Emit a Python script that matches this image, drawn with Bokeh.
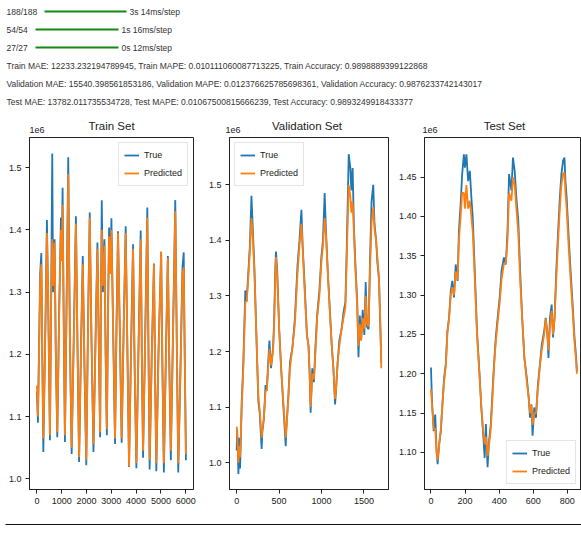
from bokeh.plotting import figure
from bokeh.layouts import column, row
from bokeh.models import Range1d, FixedTicker, PrintfTickFormatter, Legend, LegendItem
from bokeh.core.properties import value
from bokeh.embed import file_html
from bokeh.resources import INLINE

# ---------------- data ----------------
progress_steps = ["188/188", "54/54", "27/27"]
progress_times = ["3s 14ms/step", "1s 16ms/step", "0s 12ms/step"]
metric_lines = [
    "Train MAE: 12233.232194789945, Train MAPE: 0.010111060087713225, Train Accuracy: 0.9898889399122868",
    "Validation MAE: 15540.398561853186, Validation MAPE: 0.012376625785698361, Validation Accuracy: 0.9876233742143017",
    "Test MAE: 13782.011735534728, Test MAPE: 0.01067500815666239, Test Accuracy: 0.9893249918433377",
]
subplot_titles = ["Train Set", "Validation Set", "Test Set"]
series_labels = ["True", "Predicted"]
y_multiplier = "1e6"

# values in units of 1e6
train_x = [0, 40, 100, 130, 177, 215, 258, 330, 403, 465,
           524, 575, 618, 650, 712, 760, 820, 900, 968, 1000,
           1035, 1080, 1129, 1200, 1263, 1330, 1400, 1490, 1572, 1640,
           1700, 1780, 1848, 1920, 1990, 2060, 2130, 2200, 2280, 2360,
           2440, 2500, 2548, 2580, 2615, 2660, 2723, 2770, 2820, 2870,
           2911, 2960, 3004, 3080, 3150, 3210, 3270, 3350, 3418, 3500,
           3580, 3650, 3715, 3800, 3876, 3940, 4011, 4100, 4185, 4230,
           4280, 4370, 4452, 4500, 4546, 4630, 4720, 4770, 4815, 4900,
           5010, 5060, 5120, 5200, 5280, 5340, 5400, 5490, 5580, 5640,
           5700, 5790, 5870, 5920, 5960, 6010]
train_true = [1.140, 1.090, 1.250, 1.330, 1.363, 1.200, 1.043, 1.220, 1.416, 1.250,
              1.062, 1.300, 1.523, 1.300, 1.385, 1.200, 1.067, 1.280, 1.420, 1.360,
              1.468, 1.250, 1.059, 1.300, 1.517, 1.220, 1.040, 1.240, 1.422, 1.200,
              1.027, 1.220, 1.358, 1.170, 1.022, 1.250, 1.428, 1.220, 1.043, 1.220,
              1.380, 1.200, 1.067, 1.280, 1.448, 1.300, 1.385, 1.200, 1.070, 1.280,
              1.404, 1.330, 1.419, 1.220, 1.056, 1.250, 1.398, 1.220, 1.058, 1.250,
              1.406, 1.200, 1.019, 1.220, 1.377, 1.180, 1.017, 1.220, 1.399, 1.200,
              1.034, 1.240, 1.436, 1.200, 1.015, 1.200, 1.346, 1.150, 1.012, 1.200,
              1.365, 1.180, 1.010, 1.200, 1.358, 1.180, 1.030, 1.240, 1.448, 1.220,
              1.010, 1.180, 1.340, 1.364, 1.200, 1.030]
train_pred = [1.150, 1.100, 1.240, 1.320, 1.345, 1.210, 1.065, 1.210, 1.395, 1.260,
              1.070, 1.290, 1.385, 1.310, 1.380, 1.210, 1.075, 1.270, 1.400, 1.350,
              1.440, 1.260, 1.070, 1.290, 1.490, 1.230, 1.050, 1.230, 1.410, 1.210,
              1.035, 1.210, 1.345, 1.180, 1.030, 1.240, 1.420, 1.230, 1.055, 1.210,
              1.370, 1.210, 1.075, 1.270, 1.400, 1.310, 1.375, 1.210, 1.080, 1.270,
              1.390, 1.330, 1.400, 1.230, 1.065, 1.240, 1.395, 1.230, 1.065, 1.240,
              1.395, 1.210, 1.020, 1.210, 1.370, 1.190, 1.025, 1.210, 1.385, 1.210,
              1.045, 1.230, 1.420, 1.210, 1.030, 1.190, 1.345, 1.160, 1.025, 1.190,
              1.365, 1.190, 1.025, 1.190, 1.355, 1.190, 1.045, 1.230, 1.430, 1.230,
              1.025, 1.170, 1.330, 1.340, 1.210, 1.040]

val_x = [0, 5, 12, 20, 32, 40, 59, 78, 101, 117,
         132, 155, 174, 190, 209, 232, 255, 271, 294, 302,
         321, 340, 355, 371, 386, 405, 428, 440, 455, 463,
         478, 501, 524, 551, 578, 585, 609, 628, 659, 686,
         717, 740, 763, 778, 801, 828, 847, 860, 872, 891,
         910, 929, 948, 975, 998, 1017, 1037, 1052, 1075, 1102,
         1121, 1140, 1160, 1171, 1190, 1210, 1236, 1259, 1282, 1298,
         1321, 1340, 1352, 1367, 1383, 1402, 1421, 1436, 1452, 1467,
         1486, 1505, 1521, 1536, 1555, 1571, 1590, 1610, 1625, 1644,
         1659, 1678, 1694, 1705]
val_true = [1.022, 1.060, 1.030, 0.980, 1.045, 0.990, 1.110, 1.180, 1.310, 1.290,
            1.330, 1.390, 1.480, 1.420, 1.350, 1.230, 1.110, 1.090, 1.025, 1.055,
            1.080, 1.140, 1.130, 1.180, 1.220, 1.170, 1.205, 1.250, 1.350, 1.380,
            1.345, 1.240, 1.170, 1.100, 1.030, 1.060, 1.120, 1.180, 1.210, 1.260,
            1.355, 1.400, 1.455, 1.390, 1.320, 1.230, 1.210, 1.160, 1.090, 1.170,
            1.145, 1.210, 1.265, 1.310, 1.370, 1.400, 1.485, 1.420, 1.340, 1.265,
            1.210, 1.170, 1.105, 1.130, 1.180, 1.220, 1.240, 1.270, 1.290, 1.390,
            1.555, 1.530, 1.490, 1.530, 1.420, 1.350, 1.290, 1.190, 1.265, 1.220,
            1.275, 1.230, 1.325, 1.245, 1.240, 1.360, 1.470, 1.500, 1.430, 1.400,
            1.360, 1.330, 1.240, 1.180]
val_pred = [1.065, 1.050, 1.030, 1.000, 1.030, 1.010, 1.100, 1.170, 1.290, 1.290,
            1.320, 1.380, 1.440, 1.405, 1.340, 1.230, 1.120, 1.095, 1.045, 1.060,
            1.080, 1.130, 1.130, 1.170, 1.205, 1.175, 1.200, 1.240, 1.330, 1.370,
            1.335, 1.240, 1.170, 1.105, 1.045, 1.060, 1.115, 1.170, 1.210, 1.250,
            1.340, 1.390, 1.430, 1.385, 1.310, 1.230, 1.210, 1.160, 1.100, 1.160,
            1.150, 1.200, 1.260, 1.300, 1.360, 1.390, 1.440, 1.410, 1.340, 1.260,
            1.210, 1.170, 1.115, 1.130, 1.180, 1.210, 1.240, 1.260, 1.280, 1.370,
            1.500, 1.480, 1.450, 1.470, 1.410, 1.340, 1.280, 1.210, 1.250, 1.220,
            1.260, 1.240, 1.300, 1.250, 1.245, 1.340, 1.430, 1.460, 1.420, 1.400,
            1.370, 1.330, 1.250, 1.170]

test_x = [0, 6, 16, 25, 33, 39, 48, 58, 67, 77,
          87, 96, 106, 116, 125, 135, 145, 156, 164, 174,
          183, 193, 199, 208, 218, 228, 237, 245, 257, 270,
          284, 295, 305, 315, 322, 332, 341, 351, 361, 370,
          380, 391, 403, 414, 428, 439, 449, 458, 472, 481,
          491, 501, 512, 523, 535, 548, 562, 573, 581, 589,
          596, 606, 616, 627, 639, 650, 664, 673, 683, 689,
          698, 708, 716, 725, 735, 746, 756, 765, 775, 783,
          789, 796, 808, 819, 831, 842, 852, 856]
test_true = [1.208, 1.165, 1.127, 1.148, 1.101, 1.085, 1.110, 1.127, 1.161, 1.195,
             1.212, 1.254, 1.271, 1.305, 1.318, 1.297, 1.339, 1.318, 1.382, 1.416,
             1.454, 1.479, 1.462, 1.479, 1.445, 1.458, 1.424, 1.399, 1.331, 1.254,
             1.203, 1.157, 1.127, 1.093, 1.136, 1.081, 1.115, 1.136, 1.178, 1.212,
             1.246, 1.271, 1.297, 1.331, 1.348, 1.339, 1.382, 1.454, 1.433, 1.475,
             1.458, 1.424, 1.395, 1.331, 1.271, 1.220, 1.195, 1.170, 1.144, 1.161,
             1.121, 1.157, 1.144, 1.186, 1.212, 1.237, 1.254, 1.271, 1.250, 1.220,
             1.271, 1.288, 1.246, 1.271, 1.331, 1.382, 1.424, 1.454, 1.471, 1.475,
             1.445, 1.424, 1.373, 1.331, 1.288, 1.246, 1.220, 1.203]
test_pred = [1.180, 1.160, 1.130, 1.130, 1.100, 1.090, 1.110, 1.130, 1.160, 1.190,
             1.210, 1.250, 1.270, 1.300, 1.310, 1.300, 1.330, 1.320, 1.370, 1.400,
             1.430, 1.430, 1.410, 1.440, 1.410, 1.420, 1.400, 1.380, 1.320, 1.250,
             1.200, 1.160, 1.130, 1.110, 1.120, 1.095, 1.110, 1.130, 1.170, 1.210,
             1.240, 1.265, 1.290, 1.320, 1.340, 1.340, 1.370, 1.430, 1.420, 1.450,
             1.440, 1.410, 1.380, 1.320, 1.270, 1.220, 1.190, 1.170, 1.150, 1.160,
             1.135, 1.150, 1.150, 1.180, 1.210, 1.230, 1.250, 1.270, 1.250, 1.230,
             1.260, 1.280, 1.250, 1.270, 1.320, 1.370, 1.410, 1.440, 1.455, 1.455,
             1.430, 1.410, 1.360, 1.320, 1.280, 1.240, 1.215, 1.200]

train_xticks = [0, 1000, 2000, 3000, 4000, 5000, 6000]
val_xticks = [0, 500, 1000, 1500]
test_xticks = [0, 200, 400, 600, 800]
train_yticks = [1.0, 1.1, 1.2, 1.3, 1.4, 1.5]
val_yticks = [1.0, 1.1, 1.2, 1.3, 1.4, 1.5]
test_yticks = [1.10, 1.15, 1.20, 1.25, 1.30, 1.35, 1.40, 1.45]

# ---------------- styles ----------------
FONT = "Liberation Sans"
INK = "#222222"
TXT = "#333333"
BLUE = "#1f77b4"
ORANGE = "#ff7f0e"


def make_panel(xs, yt, yp, xr, yr, xticks, yticks, yfmt, width, bl, br, legend_loc):
    p = figure(width=width, height=379, x_range=Range1d(*xr), y_range=Range1d(*yr),
               output_backend="svg", toolbar_location=None,
               min_border_left=bl, min_border_right=br, min_border_top=1, min_border_bottom=26)
    r1 = p.line(xs, yt, line_color=BLUE, line_width=1.8)
    r2 = p.line(xs, yp, line_color=ORANGE, line_width=1.8)
    leg = Legend(items=[LegendItem(label=series_labels[0], renderers=[r1]),
                        LegendItem(label=series_labels[1], renderers=[r2])],
                 location=legend_loc)
    leg.label_text_font = FONT
    leg.label_text_font_size = "9px"
    leg.label_text_color = INK
    leg.glyph_width = 15
    leg.glyph_height = 10
    leg.label_height = 14
    leg.label_standoff = 5
    leg.spacing = 4
    leg.padding = 5
    leg.margin = 5
    leg.border_line_color = "#cccccc"
    leg.background_fill_alpha = 0.85
    p.add_layout(leg)
    p.grid.visible = False
    p.outline_line_color = INK
    p.outline_line_alpha = 1.0
    for ax in (p.xaxis[0], p.yaxis[0]):
        ax.major_tick_in = 0
        ax.major_tick_out = 4
        ax.minor_tick_line_color = None
        ax.axis_line_color = INK
        ax.major_tick_line_color = INK
        ax.major_label_text_font = FONT
        ax.major_label_text_font_size = "9px"
        ax.major_label_text_color = INK
        ax.major_label_standoff = 4
    p.xaxis.ticker = FixedTicker(ticks=xticks)
    p.yaxis.ticker = FixedTicker(ticks=yticks)
    p.xaxis.formatter = PrintfTickFormatter(format="%d")
    p.yaxis.formatter = PrintfTickFormatter(format=yfmt)
    return p


f1 = make_panel(train_x, train_true, train_pred, (-300, 6315), (0.9828, 1.5487),
                train_xticks, train_yticks, "%.1f", 205, 29, 12, "top_right")
f2 = make_panel(val_x, val_true, val_pred, (-85, 1790), (0.952, 1.585),
                val_xticks, val_yticks, "%.1f", 190, 20, 7, "top_left")
f3 = make_panel(test_x, test_true, test_pred, (-38, 883), (1.0527, 1.5005),
                test_xticks, test_yticks, "%.2f", 186, 27, 0, "bottom_right")

# ---------------- console text header + subplot titles ----------------
top = figure(width=581, height=136, x_range=Range1d(0, 581), y_range=Range1d(136, 0),
             output_backend="svg", toolbar_location=None, min_border=0,
             x_axis_location=None, y_axis_location=None)
top.grid.visible = False
top.outline_line_color = None
row_y = [11, 29, 47, 65, 83, 101]
top.text(x=[6, 6, 6], y=row_y[:3], text=progress_steps, text_font=value(FONT),
         text_font_size="8.5px", text_baseline="middle", text_color=TXT)
top.segment(x0=[44, 35, 35], y0=row_y[:3], x1=[126, 118, 118], y1=row_y[:3],
            line_color="#138a13", line_width=2)
top.text(x=[129, 121, 121], y=row_y[:3], text=progress_times, text_font=value(FONT),
         text_font_size="8.5px", text_baseline="middle", text_color=TXT)
top.text(x=[6, 6, 6], y=row_y[3:], text=metric_lines, text_font=value(FONT),
         text_font_size="8.5px", text_baseline="middle", text_color=TXT)
# subplot titles (centred over each frame) and the 1e6 offset labels
top.text(x=[111, 306.5, 504], y=[125, 125, 125], text=subplot_titles, text_font=value(FONT),
         text_font_size="11.5px", text_align="center", text_baseline="middle", text_color=INK)
top.text(x=[29, 225, 422], y=[129, 129, 129], text=[y_multiplier] * 3, text_font=value(FONT),
         text_font_size="9px", text_align="left", text_baseline="middle", text_color=INK)

# ---------------- bottom rule ----------------
bottom = figure(width=581, height=24, x_range=Range1d(0, 581), y_range=Range1d(24, 0),
                output_backend="svg", toolbar_location=None, min_border=0,
                x_axis_location=None, y_axis_location=None)
bottom.grid.visible = False
bottom.outline_line_color = None
bottom.segment(x0=[5], y0=[9], x1=[581], y1=[9], line_color="#111111", line_width=1)

layout = column(top, row(f1, f2, f3), bottom)
open("out.html", "w").write(file_html(layout, INLINE))
